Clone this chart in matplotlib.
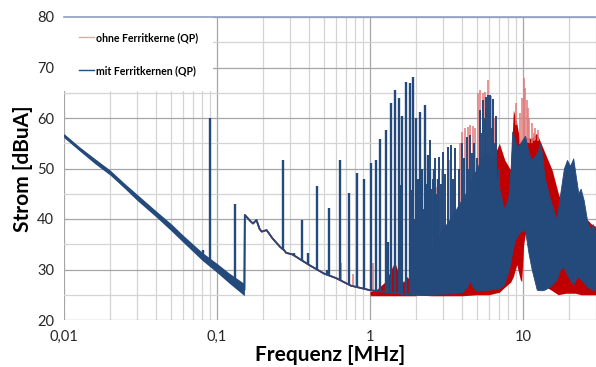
import numpy as np
import matplotlib
matplotlib.use('Agg')
import matplotlib.pyplot as plt
from matplotlib.lines import Line2D
from matplotlib.ticker import FixedLocator, FixedFormatter, NullFormatter

plt.rcParams['font.family'] = ['Lato', 'DejaVu Sans']

BLUE = '#244a7c'
RED = '#c00000'
RED_LIGHT = '#e07a7a'

# --- noise floor, both measurements (MHz / dBuA) ---
lf_freq = [0.01, 0.0125, 0.016, 0.02, 0.025, 0.03, 0.04, 0.05, 0.06, 0.08, 0.1, 0.12, 0.151]
lf_level = [56.5, 54.0, 51.4, 49.2, 46.5, 44.3, 41.0, 38.4, 36.1, 32.6, 30.3, 28.3, 26.0]
lf_noise = [0.4, 0.4, 0.5, 0.5, 0.5, 0.6, 0.6, 0.7, 0.7, 0.8, 0.9, 1.0, 1.2]

mf_freq = [0.152, 0.165, 0.172, 0.181, 0.19, 0.196, 0.211, 0.23, 0.258, 0.275, 0.283,
           0.31, 0.33, 0.35, 0.4, 0.5, 0.6, 0.75, 1.0, 1.5, 2.0, 2.5]
mf_level = [40.8, 39.6, 39.1, 39.8, 38.0, 37.5, 37.8, 36.2, 34.5, 33.8, 33.3,
            33.0, 32.5, 32.0, 30.9, 29.2, 28.3, 26.8, 25.9, 25.3, 25.0, 25.0]

# --- single spectral lines, mit Ferritkernen ---
blue_pk_freq = [0.0807, 0.090, 0.1316, 0.272, 0.32, 0.362, 0.395, 0.45, 0.52, 0.54,
                0.638, 0.73, 0.82, 0.91, 1.01, 1.10, 1.17, 1.27, 1.31, 1.37, 1.45,
                1.55, 1.59, 1.63, 1.73, 1.83, 1.88, 1.91, 1.95, 2.0, 2.05, 2.11, 2.15,
                2.2, 2.25, 2.30, 2.33, 2.37, 2.41, 2.45, 2.52, 2.62, 2.7, 2.78]
blue_pk_level = [33.9, 60.0, 43.0, 51.7, 33.3, 39.9, 33.2, 46.5, 30.0, 42.1,
                 51.7, 45.2, 49.2, 47.9, 51.0, 51.7, 55.9, 57.6, 35.5, 62.9, 65.5,
                 64.0, 46.7, 60.3, 67.2, 66.9, 45.7, 68.1, 40.0, 60.0, 48.0, 61.2, 44.0,
                 50.0, 42.0, 62.6, 45.0, 47.0, 52.7, 50.0, 46.0, 50.0, 45.0, 48.0]

# --- dense region > 2 MHz, mit Ferritkernen ---
blue_hf_freq = [2.0, 2.3, 2.5, 3.0, 3.5, 4.0, 4.3, 4.5, 4.7, 5.0, 5.5, 6.0, 6.5, 7.0, 7.5,
                8.0, 8.3, 8.5, 8.8, 9.1, 9.6, 10.3, 10.9, 11.4, 12.3, 13.0, 13.4, 13.8,
                15.0, 16.6, 17.5, 18.5, 19.4, 20.3, 21.3, 22.0, 23.0, 23.8, 24.9, 26.2,
                27.8, 28.5, 30.0]
blue_hf_top = [26.5, 29.0, 34.0, 38.0, 41.0, 44.0, 45.5, 47.0, 48.5, 50.0, 53.0, 53.0, 50.0,
               46.0, 42.0, 44.0, 50.0, 57.3, 56.0, 54.3, 55.0, 56.5, 53.0, 51.7, 53.0,
               55.0, 52.0, 48.4, 44.0, 39.8, 45.0, 50.0, 51.7, 50.5, 52.0, 49.0, 45.1,
               46.0, 43.8, 39.8, 37.8, 39.0, 37.0]
blue_hf_low = [25.5, 25.2, 25.0, 25.2, 25.3, 25.5, 26.5, 27.8, 26.5, 25.8, 25.9, 26.0, 26.2,
               26.3, 27.0, 29.5, 31.5, 33.5, 35.5, 36.5, 37.5, 37.8, 33.0, 30.0, 26.0,
               25.9, 25.9, 26.0, 26.6, 28.0, 30.0, 30.5, 29.0, 28.0, 27.0, 28.0, 28.6,
               28.0, 27.5, 26.6, 26.2, 26.0, 26.0]
blue_hf_pk_freq = [2.47, 2.58, 2.66, 2.84, 2.92, 3.0, 3.1, 3.25, 3.4, 3.5, 3.6, 3.8, 3.98,
                   4.1, 4.3, 4.4, 4.5, 4.65, 4.8, 5.0, 5.2, 5.35, 5.5, 5.65, 5.77, 5.9,
                   6.1, 6.25, 6.4, 6.55, 6.7, 7.0]
blue_hf_pk_level = [55.6, 48.0, 52.0, 52.3, 47.0, 53.3, 49.0, 54.3, 54.6, 48.0, 54.0, 50.0,
                    55.0, 52.0, 56.3, 50.0, 56.6, 53.0, 55.0, 52.0, 61.6, 57.0, 63.6, 60.0,
                    64.2, 64.6, 64.6, 58.0, 63.8, 55.0, 60.3, 50.0]

# --- ohne Ferritkerne ---
red_floor_freq = [1.0, 1.1, 1.25, 1.35, 1.45, 1.55, 1.65, 1.75, 1.85, 2.0]
red_floor_top = [25.6, 26.0, 27.5, 29.5, 31.5, 29.0, 27.5, 28.6, 27.5, 25.5]
red_floor_low = 24.8

red_hf_freq = [2.0, 2.5, 3.0, 4.0, 5.0, 6.0, 7.0, 7.6, 8.3, 8.65, 9.1, 9.6, 9.8, 10.1,
               10.5, 11.1, 11.4, 12.3, 13.4, 15.5, 17.0, 19.0, 22.0, 24.0, 26.5, 28.0, 30.0]
red_hf_top = [26.0, 32.0, 36.0, 42.0, 46.0, 50.0, 55.0, 51.7, 49.7, 61.6, 59.0, 55.0, 53.0,
              54.0, 56.3, 56.0, 56.0, 57.0, 54.3, 49.7, 45.1, 41.0, 38.0, 38.0, 39.8, 39.0, 38.5]
red_hf_low = [25.0, 24.8, 24.8, 24.8, 25.0, 25.0, 25.5, 26.5, 27.5, 28.6, 31.0, 28.0, 27.6,
              35.0, 38.0, 33.0, 30.6, 29.0, 27.0, 25.8, 25.0, 25.3, 25.3, 25.0, 25.0, 25.0, 25.0]
red_pk_freq = [0.65, 0.78, 0.92, 1.05, 2.2, 2.5, 2.7, 2.95, 3.3, 3.6, 3.85, 4.0, 4.2, 4.35,
               4.5, 4.7, 4.85, 5.1, 5.25, 5.5, 5.65, 5.9, 6.2, 6.45, 6.7, 7.0, 9.0, 9.5,
               9.8, 10.1, 10.3, 10.6, 10.8, 11.0, 11.5, 11.8, 12.0, 12.5]
red_pk_level = [31.2, 29.2, 30.0, 31.2, 40.0, 43.4, 46.4, 49.7, 51.7, 53.0, 55.0, 57.3, 58.0,
                58.3, 58.6, 58.4, 58.0, 65.0, 65.5, 65.0, 65.2, 67.5, 64.4, 60.0, 56.3, 54.0,
                63.0, 61.0, 64.0, 67.9, 66.0, 63.6, 62.0, 60.0, 59.0, 57.0, 58.0, 57.6]

x_ticks = [0.01, 0.1, 1, 10]
x_ticklabels = ['0,01', '0,1', '1', '10']
y_ticks = [20, 30, 40, 50, 60, 70, 80]


def foot(freqs, ref_f, ref_l):
  # level of the curve underneath each spectral line
  return np.interp(np.log10(freqs), np.log10(ref_f), ref_l)


fig = plt.figure(figsize=(5.96, 3.67), dpi=100)
ax = fig.add_axes([64 / 596, 1 - 320 / 367, 532 / 596, 303 / 367])
ax.set_xscale('log')
ax.set_xlim(0.01, 30)
ax.set_ylim(20, 80)

base_f = lf_freq + mf_freq
base_l = lf_level + mf_level

# ohne Ferritkerne (drawn first, behind)
ax.plot(base_f, base_l, color=RED, lw=1.2, zorder=2)
ax.fill_between(red_floor_freq, red_floor_low, red_floor_top, color=RED, lw=0, zorder=2)
ax.fill_between(red_hf_freq, red_hf_low, red_hf_top, color=RED, lw=0, zorder=2)
pk = np.array(red_pk_freq)
ax.vlines(pk, np.maximum(foot(pk, base_f, base_l), foot(pk, red_hf_freq, red_hf_top) - 1),
          red_pk_level, color=RED_LIGHT, lw=1.1, zorder=2)

# mit Ferritkernen
lf = np.array(lf_freq)
ax.fill_between(lf, np.array(lf_level) - np.array(lf_noise),
                np.array(lf_level) + np.array(lf_noise), color=BLUE, lw=0, zorder=3)
ax.plot(base_f, base_l, color=BLUE, lw=1.3, zorder=3)
pk = np.array(blue_pk_freq)
ax.vlines(pk, foot(pk, base_f, base_l), blue_pk_level, color=BLUE, lw=1.7, zorder=3)
ax.fill_between(blue_hf_freq, blue_hf_low, blue_hf_top, color=BLUE, lw=0.6,
                edgecolor=BLUE, zorder=3)
pk = np.array(blue_hf_pk_freq)
ax.vlines(pk, foot(pk, blue_hf_freq, blue_hf_top) - 1, blue_hf_pk_level, color=BLUE,
          lw=1.4, zorder=3)

# grid
ax.xaxis.set_major_locator(FixedLocator(x_ticks))
ax.xaxis.set_major_formatter(FixedFormatter(x_ticklabels))
ax.xaxis.set_minor_formatter(NullFormatter())
ax.yaxis.set_major_locator(FixedLocator(y_ticks))
ax.yaxis.set_minor_locator(FixedLocator([25, 35, 45, 55, 65, 75]))
ax.grid(which='major', color='#a6a6a6', lw=0.9, zorder=0)
ax.grid(which='minor', color='#d4d4d4', lw=0.9, zorder=0)
ax.set_axisbelow(True)
ax.tick_params(which='both', length=0)
ax.tick_params(axis='both', labelsize=10.5, colors='#262626', pad=7)
for s in ['left', 'right', 'bottom']:
  ax.spines[s].set_visible(False)
ax.spines['top'].set_color('#8fa0bf')
ax.spines['top'].set_linewidth(1.2)
ax.spines['top'].set_zorder(6)

ax.set_xlabel('Frequenz [MHz]', fontsize=15, fontweight='bold', labelpad=1)
ax.set_ylabel('Strom [dBuA]', fontsize=15, fontweight='bold', labelpad=3)

handles = [Line2D([], [], color='#f0a0a0', lw=1.0),
           Line2D([], [], color=BLUE, lw=1.0)]
leg = ax.legend(handles, ['ohne Ferritkerne (QP)', 'mit Ferritkernen (QP)'],
                loc='upper left', bbox_to_anchor=(0.0, 1.0), frameon=True,
                fancybox=False, borderaxespad=0.0, borderpad=1.4,
                labelspacing=2.1, handlelength=1.4, handletextpad=0.2,
                prop={'size': 7.6, 'weight': 'bold'})
leg.get_frame().set_facecolor('white')
leg.get_frame().set_edgecolor('none')
leg.get_frame().set_alpha(1.0)
leg.set_zorder(5)

fig.savefig('out.png', dpi=100)
